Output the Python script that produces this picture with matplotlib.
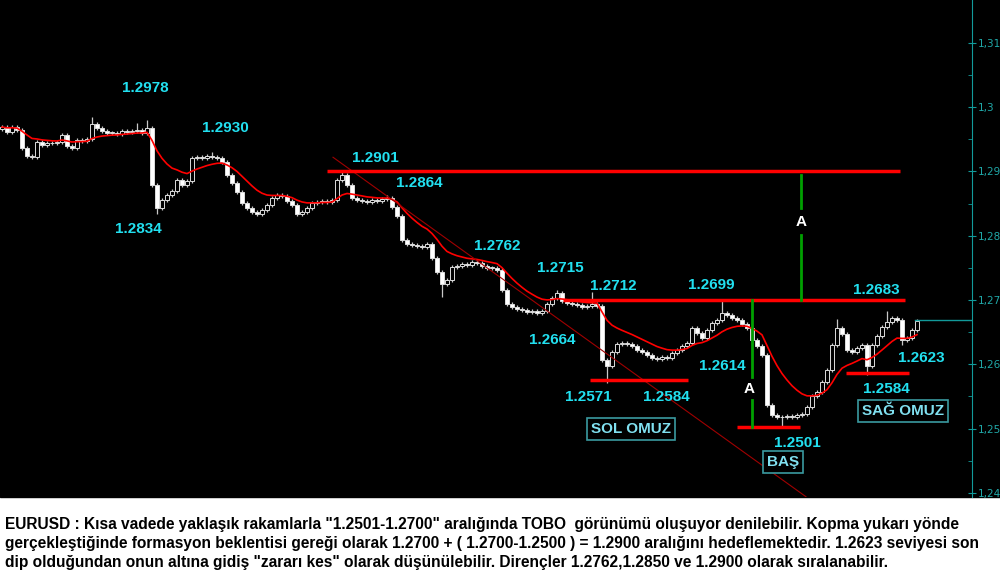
import numpy as np
import pandas as pd
import matplotlib
matplotlib.use("Agg")
import matplotlib.pyplot as plt
from matplotlib.patches import Rectangle

# EURUSD closes, one bar every 5 px of the original picture
closes = [
    1.2969, 1.2961, 1.2969, 1.2964, 1.2936, 1.2924, 1.2922, 1.2946, 1.2941, 1.2944,
    1.2944, 1.2946, 1.2957, 1.2940, 1.2936, 1.2949, 1.2947, 1.2950, 1.2974, 1.2967,
    1.2963, 1.2960, 1.2960, 1.2958, 1.2963, 1.2961, 1.2963, 1.2964, 1.2960, 1.2967,
    1.2879, 1.2843, 1.2856, 1.2863, 1.2870, 1.2887, 1.2879, 1.2885, 1.2921, 1.2922,
    1.2921, 1.2924, 1.2922, 1.2921, 1.2915, 1.2894, 1.2882, 1.2868, 1.2851, 1.2843,
    1.2837, 1.2834, 1.2840, 1.2848, 1.2859, 1.2863, 1.2862, 1.2854, 1.2848, 1.2834,
    1.2837, 1.2843, 1.2851, 1.2852, 1.2854, 1.2852, 1.2856, 1.2887, 1.2894, 1.2879,
    1.2859, 1.2856, 1.2854, 1.2852, 1.2856, 1.2854, 1.2857, 1.2859, 1.2845, 1.2831,
    1.2793, 1.2787, 1.2786, 1.2784, 1.2782, 1.2787, 1.2765, 1.2744, 1.2725, 1.2731,
    1.2751, 1.2753, 1.2756, 1.2754, 1.2759, 1.2758, 1.2753, 1.2750, 1.2750, 1.2747,
    1.2716, 1.2694, 1.2689, 1.2686, 1.2684, 1.2681, 1.2683, 1.2680, 1.2683, 1.2694,
    1.2703, 1.2711, 1.2698, 1.2695, 1.2694, 1.2692, 1.2689, 1.2691, 1.2694, 1.2691,
    1.2607, 1.2597, 1.2619, 1.2632, 1.2633, 1.2632, 1.2628, 1.2622, 1.2619, 1.2614,
    1.2610, 1.2608, 1.2611, 1.2610, 1.2618, 1.2622, 1.2628, 1.2633, 1.2656, 1.2649,
    1.2641, 1.2653, 1.2664, 1.2669, 1.2680, 1.2677, 1.2672, 1.2669, 1.2663, 1.2656,
    1.2638, 1.2628, 1.2614, 1.2537, 1.2521, 1.2518, 1.2518, 1.2520, 1.2518, 1.2521,
    1.2523, 1.2534, 1.2551, 1.2557, 1.2572, 1.2591, 1.2630, 1.2656, 1.2647, 1.2622,
    1.2619, 1.2625, 1.2630, 1.2597, 1.2630, 1.2644, 1.2658, 1.2666, 1.2672, 1.2669,
    1.2638, 1.2641, 1.2653, 1.2667,
]
first_open = 1.2966
spike_highs = {18: 1.2985, 27: 1.2975, 29: 1.2980, 42: 1.2930, 68: 1.2901, 77: 1.2864,
               94: 1.2762, 111: 1.2715, 118: 1.2712, 144: 1.2699, 167: 1.2670, 177: 1.2683}
spike_lows = {31: 1.2834, 88: 1.2705, 121: 1.2571, 156: 1.2501, 173: 1.2584, 180: 1.2630}
pink_bar = 150

# analyst drawings: (price, from bar, to bar)
levels = [(1.2900, 65.0, 179.6), (1.2700, 112.2, 180.6), (1.2575, 117.6, 137.2),
          (1.2502, 147.0, 159.6), (1.2587, 168.8, 181.4)]
trend = [(66.2, 1.2922), (160.8, 1.2394)]
targets = [(159.8, [(1.2894, 1.2843), (1.2801, 1.2700)]),
           (150.0, [(1.2700, 1.2580), (1.2544, 1.2503)])]
last_price = 1.2669

labels = [("1.2978", 28.6, 1.3030), ("1.2930", 44.6, 1.2967), ("1.2834", 27.2, 1.2810),
          ("1.2901", 74.6, 1.2921), ("1.2864", 83.4, 1.2882), ("1.2762", 99.0, 1.2784),
          ("1.2715", 111.6, 1.2750), ("1.2712", 122.2, 1.2722), ("1.2664", 110.0, 1.2638),
          ("1.2571", 117.2, 1.2549), ("1.2584", 132.8, 1.2549), ("1.2699", 141.8, 1.2723),
          ("1.2614", 144.0, 1.2597), ("1.2683", 174.8, 1.2716), ("1.2623", 183.8, 1.2610),
          ("1.2584", 176.8, 1.2562), ("1.2501", 159.0, 1.2478)]
boxes = [("SOL OMUZ", 125.8, 1.2499), ("BAŞ", 156.2, 1.2448), ("SAĞ OMUZ", 180.2, 1.2527)]
a_marks = [(159.8, 1.2821), (149.4, 1.2562)]

yticks = [1.24, 1.25, 1.26, 1.27, 1.28, 1.29, 1.30, 1.31]
ytick_labels = ["1,24", "1,25", "1,26", "1,27", "1,28", "1,29", "1,3", "1,31"]

comment = [
    'EURUSD : Kısa vadede yaklaşık rakamlarla "1.2501-1.2700" aralığında TOBO  görünümü oluşuyor denilebilir. Kopma yukarı yönde',
    'gerçekleştiğinde formasyon beklentisi gereği olarak 1.2700 + ( 1.2700-1.2500 ) = 1.2900 aralığını hedeflemektedir. 1.2623 seviyesi son',
    'dip olduğundan onun altına gidiş "zararı kes" olarak düşünülebilir. Dirençler 1.2762,1.2850 ve 1.2900 olarak sıralanabilir.',
]

cyan = "#22e0f0"
teal = "#129a9a"

closes = np.array(closes)
opens = np.concatenate([[first_open], closes[:-1]])
x = np.arange(len(closes))
wick = 0.0003
highs = np.maximum(opens, closes) + wick
lows = np.minimum(opens, closes) - wick
for i, v in spike_highs.items():
    highs[i] = v
for i, v in spike_lows.items():
    lows[i] = v
ma = pd.Series(closes).ewm(span=12, adjust=False).mean()

fig = plt.figure(figsize=(10, 5.86), dpi=100, facecolor="white")
bottom = 89 / 586
fig.patches.append(Rectangle((0, bottom), 1, 1 - bottom, transform=fig.transFigure,
                             color="black", zorder=-5))
ax = fig.add_axes([0, bottom, 0.972, 1 - bottom])
ax.set_facecolor("black")
ax.set_xlim(-0.4, 194)
ax.set_ylim(1.23936, 1.31666)

ax.vlines(x, lows, highs, color="#c8c8c8", lw=0.9, zorder=2)
up = closes >= opens
body_h = np.maximum(np.abs(closes - opens), 0.00007)
body_b = np.minimum(opens, closes)
fills = np.where(up, "black", "white").tolist()
fills[pink_bar] = "#ff80ff"
ax.bar(x, body_h, bottom=body_b, width=0.65, color=fills,
       edgecolor="#dcdcdc", linewidth=0.7, zorder=3)
ax.plot(x, ma, color="#ff0000", lw=1.2, zorder=4)

for p, a, b in levels:
    ax.plot([a, b], [p, p], color="#ff0000", lw=2.5, zorder=5, solid_capstyle="butt")
ax.plot([trend[0][0], trend[1][0]], [trend[0][1], trend[1][1]], color="#a00000", lw=0.8, zorder=4)
for xi, segs in targets:
    for y0, y1 in segs:
        ax.plot([xi, xi], [y0, y1], color="#00a000", lw=2, zorder=5)
ax.plot([182.6, 194], [last_price, last_price], color=teal, lw=1, zorder=5)

for t, xi, yi in labels:
    ax.text(xi, yi, t, color=cyan, fontsize=11, fontweight="bold",
            family="Liberation Sans", ha="center", va="center", zorder=6)
for xi, yi in a_marks:
    ax.text(xi, yi, "A", color="white", fontsize=11, fontweight="bold",
            family="Liberation Sans", ha="center", va="center", zorder=6)
for t, xi, yi in boxes:
    ax.text(xi, yi, t, color="#80e0f0", fontsize=11, fontweight="bold",
            family="Liberation Sans", ha="center", va="center", zorder=6,
            bbox=dict(boxstyle="square,pad=0.25", fc="black", ec="#3a9aa0", lw=1.2))

for s in ["left", "top", "bottom"]:
    ax.spines[s].set_visible(False)
ax.spines["right"].set_color(teal)
ax.set_xticks([])
ax.yaxis.tick_right()
ax.set_yticks(yticks)
ax.set_yticklabels(ytick_labels)
ax.set_yticks(np.arange(1.245, 1.315, 0.01), minor=True)
ax.tick_params(axis="y", which="major", direction="inout", length=6, color=teal,
               labelcolor="#20a8a8", labelsize=7.5, pad=1)
ax.tick_params(axis="y", which="minor", direction="in", length=3, color=teal)

for k, line in enumerate(comment):
    fig.text(0.005, 1 - (524 + 19.5 * k) / 586, line, fontsize=11.2, fontweight="bold",
             family="Liberation Sans", color="black", va="center", ha="left")

fig.savefig("out.png", dpi=100, facecolor="white")
